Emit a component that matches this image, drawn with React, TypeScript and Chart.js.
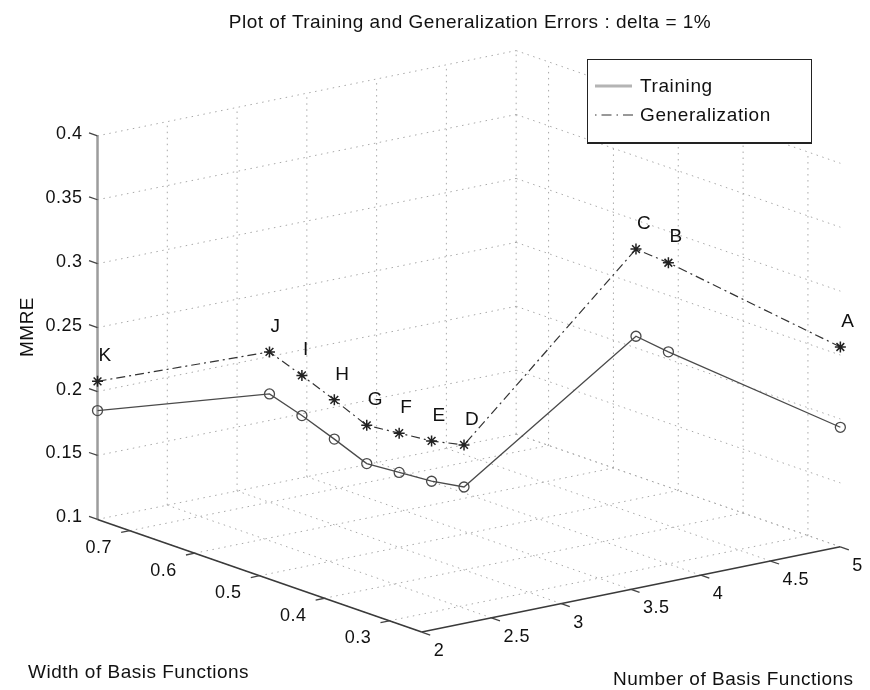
import React, { useEffect, useRef } from 'react';
import { Chart, registerables } from 'chart.js';

Chart.register(...registerables);

// ---- data ----
const pointLabels = ['A', 'B', 'C', 'D', 'E', 'F', 'G', 'H', 'I', 'J', 'K'];
const numBasis = [5, 4, 4, 3, 3, 3, 3, 3, 3, 3, 2];
const basisWidth = [0.25, 0.3, 0.35, 0.4, 0.45, 0.5, 0.55, 0.6, 0.65, 0.7, 0.75];
const trainingMMRE = [0.1935, 0.2659, 0.2693, 0.1648, 0.1605, 0.1586, 0.1567, 0.167, 0.1766, 0.1847, 0.1851];
const generalizationMMRE = [0.2563, 0.3356, 0.3375, 0.1977, 0.192, 0.1893, 0.1866, 0.1977, 0.208, 0.2176, 0.208];

const numTicks = [2, 2.5, 3, 3.5, 4, 4.5, 5];
const widthTicks = [0.3, 0.4, 0.5, 0.6, 0.7];
const mmreTicks = [0.1, 0.15, 0.2, 0.25, 0.3, 0.35, 0.4];
const xLim = [2, 5];
const yLim = [0.25, 0.75];
const zLim = [0.1, 0.4];

const titleText = 'Plot of Training and Generalization Errors : delta = 1%';
const xTitle = 'Number of Basis Functions';
const yTitle = 'Width of Basis Functions';
const zTitle = 'MMRE';
const seriesNames = ['Training', 'Generalization'];

// ---- view (3-D projection onto the page plane) ----
const ORIGIN = { x: 421.5, y: 638 };
const VX = { x: 141.83, y: -29 };
const VY = { x: -659, y: -230 };
const VZ = { x: 0, y: -1305 };

function project(x: number, y: number, z: number) {
  return {
    x: ORIGIN.x + VX.x * (x - xLim[0]) + VY.x * (y - yLim[0]) + VZ.x * (z - zLim[0]),
    y: ORIGIN.y + VX.y * (x - xLim[0]) + VY.y * (y - yLim[0]) + VZ.y * (z - zLim[0]),
  };
}

const FONT = '"Liberation Sans", Arial, Helvetica, sans-serif';
const DASH_DOT = [9, 4, 2, 4];

function norm(v: { x: number; y: number }) {
  const l = Math.hypot(v.x, v.y);
  return { x: v.x / l, y: v.y / l };
}

const box3dPlugin = {
  id: 'box3d',
  beforeDatasetsDraw(chart: any) {
    const ctx: CanvasRenderingContext2D = chart.ctx;
    const xs = chart.scales.x;
    const ys = chart.scales.y;
    const P = (a: number, b: number, c: number) => {
      const p = project(a, b, c);
      return { x: xs.getPixelForValue(p.x), y: ys.getPixelForValue(p.y) };
    };
    const seg = (a: { x: number; y: number }, b: { x: number; y: number }) => {
      ctx.beginPath();
      ctx.moveTo(a.x, a.y);
      ctx.lineTo(b.x, b.y);
      ctx.stroke();
    };
    const [x0, x1] = xLim;
    const [y0, y1] = yLim;
    const [z0, z1] = zLim;

    ctx.save();
    // grid
    ctx.strokeStyle = '#a8a8a8';
    ctx.lineWidth = 1;
    ctx.setLineDash([1.5, 4.5]);
    mmreTicks.forEach((z) => seg(P(x0, y1, z), P(x1, y1, z)));
    numTicks.forEach((x) => seg(P(x, y1, z0), P(x, y1, z1)));
    mmreTicks.forEach((z) => seg(P(x1, y1, z), P(x1, y0, z)));
    widthTicks.forEach((y) => seg(P(x1, y, z0), P(x1, y, z1)));
    numTicks.forEach((x) => seg(P(x, y0, z0), P(x, y1, z0)));
    widthTicks.forEach((y) => seg(P(x0, y, z0), P(x1, y, z0)));
    ctx.setLineDash([]);

    // axes
    ctx.strokeStyle = '#9c9c9c';
    ctx.lineWidth = 2.5;
    seg(P(x0, y1, z0), P(x0, y1, z1));
    ctx.strokeStyle = '#3a3a3a';
    ctx.lineWidth = 1.6;
    seg(P(x0, y1, z0), P(x0, y0, z0));
    seg(P(x0, y0, z0), P(x1, y0, z0));

    // ticks
    const dX = norm(VX);
    const dY = norm(VY);
    const TL = 9;
    ctx.strokeStyle = '#444';
    ctx.lineWidth = 1.3;
    mmreTicks.forEach((z) => {
      const p = P(x0, y1, z);
      seg(p, { x: p.x + dY.x * TL, y: p.y + dY.y * TL });
    });
    widthTicks.forEach((y) => {
      const p = P(x0, y, z0);
      seg(p, { x: p.x - dX.x * TL, y: p.y - dX.y * TL });
    });
    numTicks.forEach((x) => {
      const p = P(x, y0, z0);
      seg(p, { x: p.x - dY.x * TL, y: p.y - dY.y * TL });
    });

    // tick labels
    ctx.fillStyle = '#111';
    ctx.font = `18px ${FONT}`;
    (ctx as any).letterSpacing = '0.5px';
    ctx.textBaseline = 'alphabetic';
    ctx.textAlign = 'right';
    mmreTicks.forEach((z) => {
      const p = P(x0, y1, z);
      ctx.fillText(String(z), p.x - 15, p.y + 3);
    });
    widthTicks.forEach((y) => {
      const p = P(x0, y, z0);
      ctx.fillText(String(y), p.x - 18, p.y + 22.5);
    });
    ctx.textAlign = 'left';
    numTicks.forEach((x) => {
      const p = P(x, y0, z0);
      ctx.fillText(String(x), p.x + 12, p.y + 24);
    });

    // axis titles
    ctx.font = `19px ${FONT}`;
    ctx.textAlign = 'left';
    ctx.fillText(yTitle, 28, 678);
    ctx.fillText(xTitle, 613, 685);
    ctx.save();
    ctx.translate(33, 327);
    ctx.rotate(-Math.PI / 2);
    ctx.textAlign = 'center';
    ctx.fillText(zTitle, 0, 0);
    ctx.restore();

    // title
    ctx.textAlign = 'center';
    ctx.font = `19px ${FONT}`;
    ctx.fillText(titleText, 470, 28);
    ctx.restore();
  },
  afterDatasetsDraw(chart: any) {
    const ctx: CanvasRenderingContext2D = chart.ctx;
    const xs = chart.scales.x;
    const ys = chart.scales.y;
    ctx.save();
    // point letters
    ctx.fillStyle = '#111';
    ctx.font = `19px ${FONT}`;
    (ctx as any).letterSpacing = '0px';
    ctx.textAlign = 'left';
    ctx.textBaseline = 'middle';
    pointLabels.forEach((lab, i) => {
      const p = project(numBasis[i], basisWidth[i], generalizationMMRE[i] + 0.02);
      ctx.fillText(lab, xs.getPixelForValue(p.x) + 1, ys.getPixelForValue(p.y));
    });

    // legend
    const L = 587, T = 59, W = 224, H = 83;
    ctx.fillStyle = '#fff';
    ctx.fillRect(L, T, W, H);
    ctx.strokeStyle = '#222';
    ctx.lineWidth = 1;
    ctx.strokeRect(L + 0.5, T + 0.5, W, H);
    ctx.lineWidth = 2;
    ctx.beginPath();
    ctx.moveTo(L, T + H + 1);
    ctx.lineTo(L + W + 1, T + H + 1);
    ctx.stroke();

    ctx.strokeStyle = '#b4b4b4';
    ctx.lineWidth = 3;
    ctx.beginPath();
    ctx.moveTo(595, 86);
    ctx.lineTo(632, 86);
    ctx.stroke();
    ctx.strokeStyle = '#333';
    ctx.lineWidth = 1;
    ctx.setLineDash([1.5, 5, 10, 5]);
    ctx.beginPath();
    ctx.moveTo(595, 115);
    ctx.lineTo(633, 115);
    ctx.stroke();
    ctx.setLineDash([]);

    ctx.fillStyle = '#111';
    ctx.font = `19px ${FONT}`;
    (ctx as any).letterSpacing = '0.6px';
    ctx.textBaseline = 'alphabetic';
    ctx.fillText(seriesNames[0], 640, 92);
    ctx.fillText(seriesNames[1], 640, 121);
    ctx.restore();
  },
};

export default function App() {
  const ref = useRef<HTMLCanvasElement>(null);
  useEffect(() => {
    if (!ref.current) return;
    const pts = (zs: number[]) =>
      zs.map((z, i) => project(numBasis[i], basisWidth[i], z));
    const chart = new Chart(ref.current, {
      type: 'scatter',
      data: {
        datasets: [
          {
            label: seriesNames[0],
            data: pts(trainingMMRE),
            showLine: true,
            borderColor: '#4a4a4a',
            borderWidth: 1.3,
            pointStyle: 'circle',
            pointRadius: 5,
            pointBorderColor: '#4a4a4a',
            pointBackgroundColor: 'rgba(255,255,255,0)',
            pointBorderWidth: 1.3,
            clip: false,
          },
          {
            label: seriesNames[1],
            data: pts(generalizationMMRE),
            showLine: true,
            borderColor: '#333',
            borderWidth: 1.2,
            borderDash: DASH_DOT,
            pointStyle: 'star',
            pointRadius: 5.5,
            pointBorderColor: '#222',
            pointBackgroundColor: '#222',
            pointBorderWidth: 1.5,
            clip: false,
          },
        ],
      } as any,
      options: {
        responsive: false,
        animation: false,
        layout: { padding: 0 },
        scales: {
          x: { type: 'linear', min: 0, max: 870, display: false },
          y: { type: 'linear', min: 0, max: 690, reverse: true, display: false },
        },
        plugins: {
          legend: { display: false },
          tooltip: { enabled: false },
          title: { display: false },
        },
      },
      plugins: [box3dPlugin],
    });
    return () => chart.destroy();
  }, []);
  return (
    <div style={{ position: 'absolute', left: 0, top: 0, width: 870, height: 690, background: '#fff' }}>
      <canvas ref={ref} width={870} height={690} style={{ display: 'block' }} />
    </div>
  );
}
